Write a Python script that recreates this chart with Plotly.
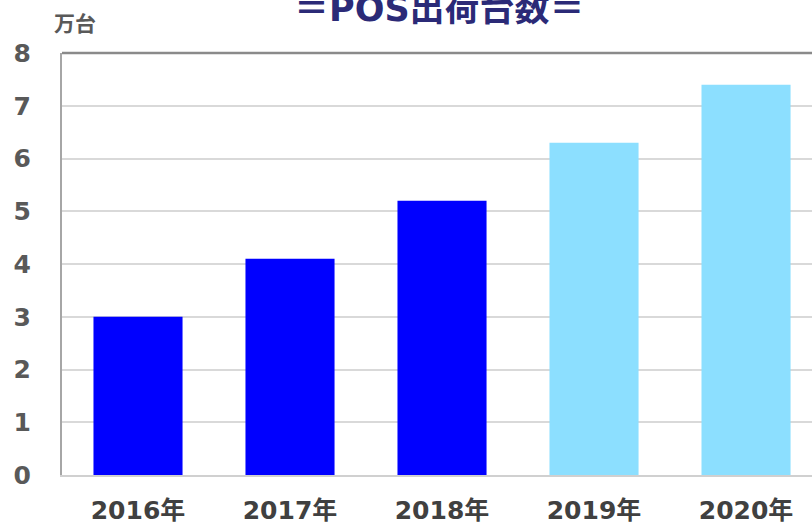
import plotly.graph_objects as go

categories = ["2016年", "2017年", "2018年", "2019年", "2020年"]
values = [3.0, 4.1, 5.2, 6.3, 7.4]
bar_colors = ["#0000FF", "#0000FF", "#0000FF", "#8CDFFF", "#8CDFFF"]
y_ticks = [0, 1, 2, 3, 4, 5, 6, 7, 8]
title_text = "＝POS出荷台数＝"
unit_text = "万台"

FONT = "DejaVu Sans, Noto Sans CJK JP, sans-serif"

fig = go.Figure()
fig.add_trace(go.Bar(x=categories, y=values, marker=dict(color=bar_colors, line=dict(width=0))))

W, H = 812, 523
L, T, B = 62, 53, 48
plot_h = H - T - B

fig.update_layout(
    width=W, height=H,
    margin=dict(l=L, r=0, t=T, b=B, autoexpand=False),
    paper_bgcolor="white", plot_bgcolor="white",
    bargap=0.414,
    showlegend=False,
    font=dict(family=FONT),
)
fig.update_xaxes(
    range=[-0.5, 4.434],
    automargin=False,
    showgrid=False,
    showline=True, linecolor="#d0d0d0", linewidth=2,
    ticks="outside", ticklen=12, tickcolor="rgba(0,0,0,0)",
    tickfont=dict(size=25, color="#404040", family=FONT, weight="bold"),
)
fig.update_yaxes(
    range=[0, 8],
    automargin=False,
    tickvals=y_ticks,
    showgrid=True, gridcolor="#d9d9d9", gridwidth=1.5,
    showline=True, linecolor="#a6a6a6", linewidth=2,
    zeroline=False,
    ticks="outside", ticklen=24, tickcolor="rgba(0,0,0,0)",
    tickfont=dict(size=25, color="#595959", family=FONT, weight="bold"),
)
# top border
fig.add_shape(type="line", xref="paper", yref="paper", x0=0, x1=1, y0=1, y1=1,
              line=dict(color="#8a8a8a", width=2.5))

fig.add_annotation(text="<b>" + title_text + "</b>", xref="paper", yref="paper",
                   x=(439 - L) / (W - L), y=(H - B - 9) / plot_h, xanchor="center", yanchor="middle",
                   showarrow=False, font=dict(size=35, color="#2B2A77", family=FONT))
fig.add_annotation(text="<b>" + unit_text + "</b>", xref="paper", yref="paper",
                   x=(52 - L) / (W - L), y=(H - B - 24) / plot_h, xanchor="left", yanchor="middle",
                   showarrow=False, font=dict(size=21, color="#595959", family=FONT))

fig.write_html("out.html", config={"displayModeBar": False},
               post_script="document.body.style.margin='0';")
